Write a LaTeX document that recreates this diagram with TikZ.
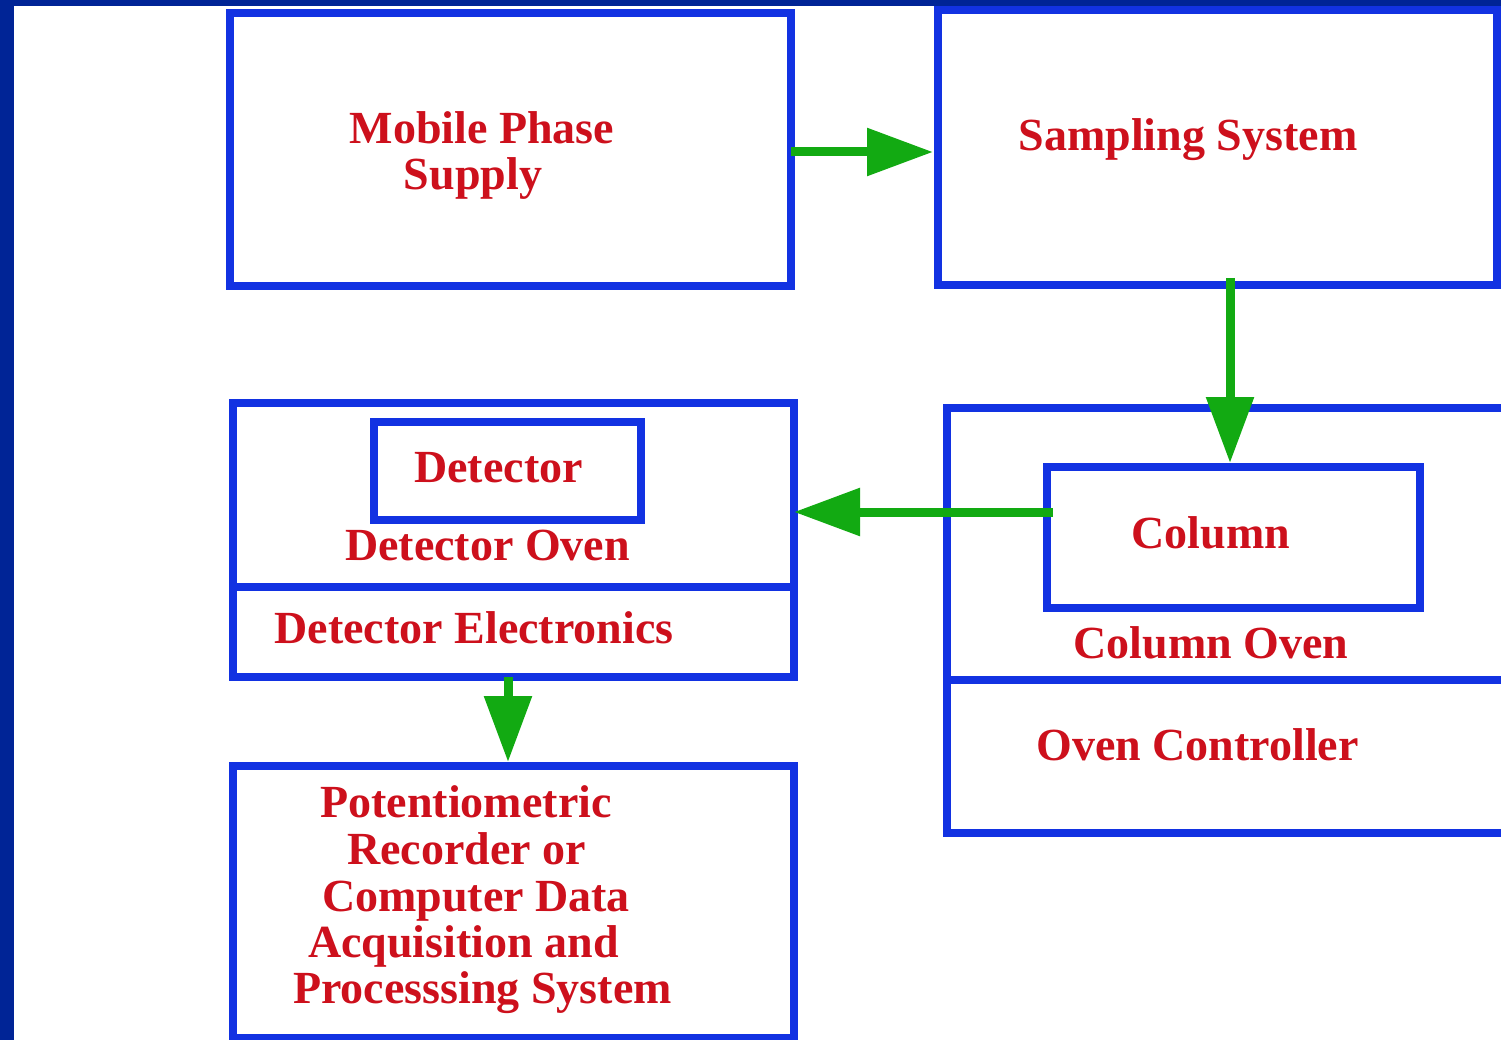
\documentclass[tikz,border=0pt]{standalone}
\usepackage{fontspec}
\setmainfont{Liberation Serif}
\usetikzlibrary{arrows.meta}
\definecolor{band}{RGB}{0,36,150}
\definecolor{boxblue}{RGB}{18,50,226}
\definecolor{txtred}{RGB}{205,16,28}
\definecolor{arrgreen}{RGB}{18,170,18}
\tikzset{
  box/.style={draw=boxblue, line width=8pt, rectangle, inner sep=0pt, outer sep=0pt},
  divider/.style={draw=boxblue, line width=8pt},
  lbl/.style={text=txtred, font=\fontsize{46}{46}\selectfont\bfseries, inner sep=0pt, anchor=base},
  arr/.style={draw=arrgreen, line width=9pt, -{Triangle[length=66pt,width=46pt]}},
}
\begin{document}
\begin{tikzpicture}[x=1pt,y=-1pt]
\useasboundingbox (0,0) rectangle (1501,1040);
\clip (0,0) rectangle (1501,1040);
\fill[white] (0,0) rectangle (1501,1040);
\fill[band] (0,0) rectangle (1501,6);
\fill[band] (0,0) rectangle (14,1040);

% boxes
\node[box, minimum width=561pt, minimum height=273pt] (mps) at (510.5,149.5) {};
\node[box, minimum width=559pt, minimum height=275pt] (samp) at (1217.5,147.5) {};
\node[box, minimum width=561pt, minimum height=274pt] (det) at (513.5,540) {};
\node[box, minimum width=267pt, minimum height=98pt] (detin) at (507.5,471) {};
\node[box, minimum width=568pt, minimum height=425pt] (col) at (1231,620.5) {};
\node[box, minimum width=373pt, minimum height=141pt] (colin) at (1233.5,537.5) {};
\node[box, minimum width=561pt, minimum height=272pt] (pot) at (513.5,902) {};

% dividers
\draw[divider] (det.west |- {(0,587)}) -- (det.east |- {(0,587)});
\draw[divider] (col.west |- {(0,680)}) -- (col.east |- {(0,680)});

% labels
\node[lbl] (t1) at (482,144) {Mobile Phase};
\node[lbl] (t2) at (473,190) {Supply};
\node[lbl] (t3) at (1188,151) {Sampling System};
\node[lbl] (t4) at (498.5,482) {Detector};
\node[lbl] (t5) at (487.5,560) {Detector Oven};
\node[lbl] (t6) at (474,643) {Detector Electronics};
\node[lbl] (t7) at (1211,548) {Column};
\node[lbl] (t8) at (1211,658) {Column Oven};
\node[lbl] (t9) at (1197.5,760) {Oven Controller};
\node[lbl] (p1) at (466,817) {Potentiometric};
\node[lbl] (p2) at (466.5,864) {Recorder or};
\node[lbl] (p3) at (476,911) {Computer Data};
\node[lbl] (p4) at (463.5,957) {Acquisition and};
\node[lbl] (p5) at (482.5,1003) {Processsing System};

% arrows
\draw[arr, shorten >=5pt] (mps.east |- {(0,152)}) -- (samp.west |- {(0,152)});
\draw[arr, shorten >=4pt, shorten <=-7pt] (samp.south -| {(1230,0)}) -- (colin.north -| {(1230,0)});
\draw[arr, shorten <=-6pt] (colin.west |- {(0,512)}) -- (det.east |- {(0,512)});
\draw[arr, shorten >=4pt] (det.south -| {(508,0)}) -- (pot.north -| {(508,0)});
\end{tikzpicture}
\end{document}
